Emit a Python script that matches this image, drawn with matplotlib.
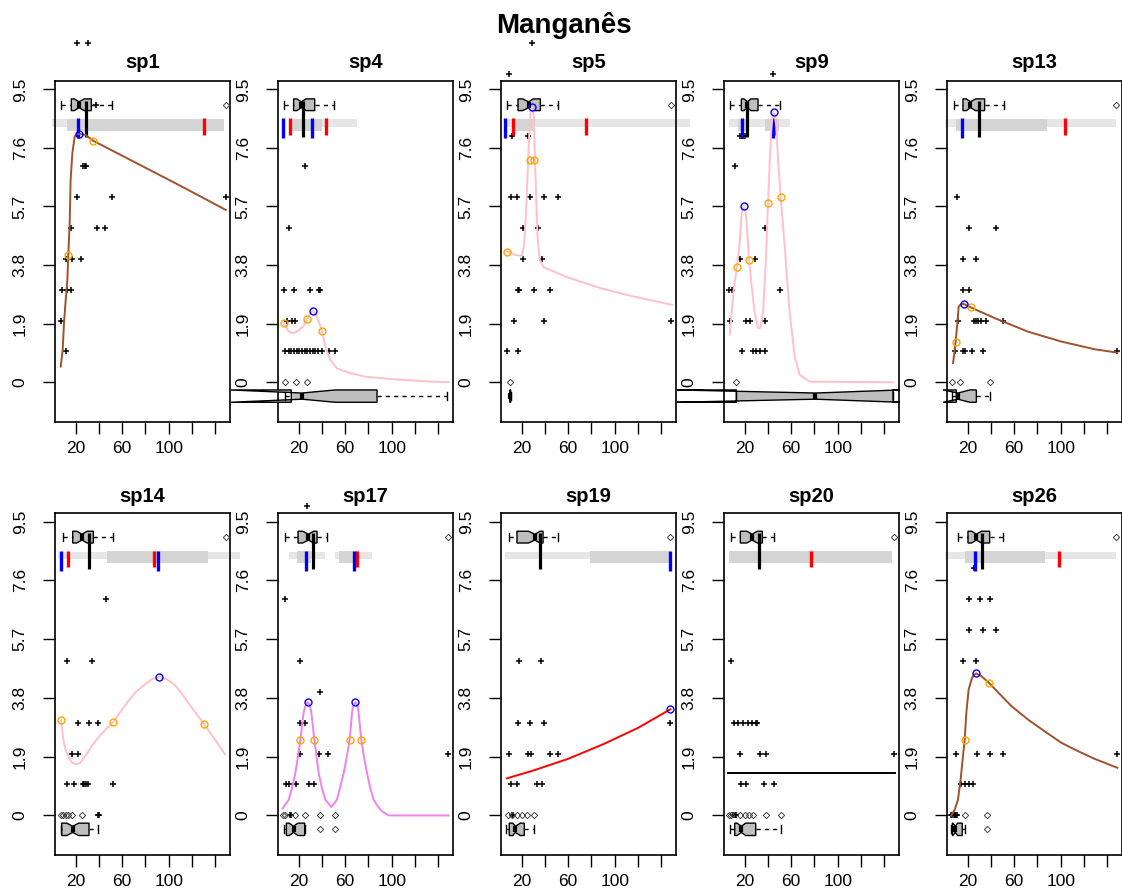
import matplotlib
matplotlib.use("Agg")
import matplotlib.pyplot as plt
from matplotlib.patches import Polygon, Rectangle

plt.rcParams["font.family"] = ["Liberation Sans", "DejaVu Sans"]

species = ["sp1", "sp4", "sp5", "sp9", "sp13",
           "sp14", "sp17", "sp19", "sp20", "sp26"]

y_ticks = [0, 1.9, 3.8, 5.7, 7.6, 9.5]
y_tick_labels = ["0", "1.9", "3.8", "5.7", "7.6", "9.5"]
x_ticks = [20, 40, 60, 80, 100, 120, 140]
x_tick_labels = ["20", "", "60", "", "100", "", ""]

# fitted response curves
curve_color = {
    "sp1": "#A0522D", "sp4": "pink", "sp5": "pink", "sp9": "pink",
    "sp13": "#A0522D", "sp14": "pink", "sp17": "violet", "sp19": "red",
    "sp20": "black", "sp26": "#A0522D",
}
curve_x = {
    "sp1": [7.3, 9.0, 10.1, 11.8, 13.0, 13.8, 15.0, 15.8, 17.3, 19.3, 21.0,
            23.0, 26.0, 28.7, 35.3, 70.2, 113.1, 148.9],
    "sp4": [7.3, 11.6, 15.8, 20.1, 24.4, 27.3, 30.2, 32.2, 34.4, 37.3, 40.2,
            43.0, 47.3, 53.0, 63.1, 77.4, 100.2, 128.9, 148.9],
    "sp5": [7.5, 14.7, 20.4, 22.4, 24.2, 25.6, 26.8, 28.0, 29.3, 30.6, 31.5,
            32.6, 33.8, 35.6, 39.0, 59.0, 87.7, 116.3, 149.2],
    "sp9": [7.3, 8.7, 11.0, 13.6, 15.8, 17.3, 18.3, 19.3, 20.4, 21.6, 23.9,
            25.9, 28.7, 31.6, 33.6, 35.9, 38.2, 40.2, 41.6, 43.0, 44.0, 45.0,
            46.0, 47.3, 49.0, 51.0, 54.5, 58.8, 63.1, 67.3, 75.9, 147.5],
    "sp13": [7.6, 9.0, 9.8, 11.3, 12.4, 14.7, 16.7, 22.7, 43.3, 71.9, 100.5,
             129.1, 148.6],
    "sp14": [7.5, 9.6, 11.5, 13.8, 16.0, 18.1, 21.0, 23.9, 28.5, 33.9, 38.0,
             42.5, 47.5, 52.5, 58.5, 65.3, 72.0, 79.6, 85.5, 91.7, 98.5,
             105.4, 111.0, 116.8, 123.5, 130.3, 135.0, 139.7, 144.0, 148.5],
    "sp17": [6.4, 11.6, 14.5, 17.3, 19.5, 21.6, 23.0, 24.4, 26.0, 27.9, 29.8,
             31.0, 32.3, 33.6, 35.5, 37.3, 40.0, 43.0, 48.2, 53.0, 58.8, 61.5,
             63.9, 65.0, 65.9, 66.9, 68.8, 70.7, 71.6, 72.7, 73.9, 76.2, 78.8,
             81.5, 84.5, 88.0, 91.7, 97.4, 148.9],
    "sp19": [7.5, 30.0, 60.0, 90.0, 120.0, 147.7],
    "sp20": [5.8, 148.9],
    "sp26": [6.1, 9.0, 11.8, 14.1, 16.1, 17.6, 19.0, 21.0, 23.9, 25.5, 27.6,
             32.0, 38.4, 47.0, 57.6, 71.9, 86.2, 100.5, 114.8, 129.1, 148.6],
}
curve_y = {
    "sp1": [0.51, 1.05, 1.91, 2.78, 3.32, 4.13, 5.16, 6.56, 7.43, 7.97, 8.04,
            8.05, 8.04, 8.02, 7.83, 7.15, 6.31, 5.59],
    "sp4": [1.91, 1.64, 1.59, 1.68, 1.83, 2.04, 2.24, 2.31, 2.24, 1.97, 1.66,
            1.16, 0.72, 0.45, 0.31, 0.18, 0.10, 0.03, 0.0],
    "sp5": [4.24, 4.13, 4.10, 4.51, 5.8, 7.1, 8.2, 8.85, 8.92, 8.6, 7.3, 6.0,
            4.72, 3.97, 3.73, 3.41, 3.05, 2.78, 2.51],
    "sp9": [1.54, 2.13, 3.10, 3.75, 4.51, 5.37, 5.62, 5.70, 5.60, 5.30, 3.95,
            3.21, 2.24, 1.75, 1.77, 2.24, 3.86, 5.81, 7.10, 8.18, 8.62, 8.78,
            8.65, 8.29, 7.10, 6.02, 4.40, 2.24, 0.83, 0.24, 0.02, 0.0],
    "sp13": [0.62, 1.05, 1.32, 1.91, 2.45, 2.54, 2.54, 2.43, 2.08, 1.64, 1.32,
             1.07, 0.96],
    "sp14": [3.08, 2.45, 2.12, 1.91, 1.75, 1.68, 1.65, 1.70, 1.92, 2.24, 2.45,
             2.65, 2.84, 3.02, 3.35, 3.70, 4.00, 4.24, 4.40, 4.48, 4.40, 4.21,
             3.95, 3.64, 3.30, 2.96, 2.70, 2.45, 2.22, 1.97],
    "sp17": [0.22, 0.51, 0.90, 1.37, 1.90, 2.45, 2.90, 3.32, 3.55, 3.66, 3.55,
             3.32, 2.90, 2.45, 1.90, 1.37, 0.90, 0.51, 0.27, 0.51, 1.37, 1.90,
             2.45, 2.90, 3.32, 3.55, 3.66, 3.55, 3.32, 2.90, 2.45, 1.90, 1.37,
             0.90, 0.51, 0.30, 0.13, 0.0, 0.0],
    "sp19": [1.20, 1.45, 1.83, 2.30, 2.83, 3.43],
    "sp20": [1.37, 1.37],
    "sp26": [0.0, 0.18, 0.51, 1.16, 1.91, 2.45, 3.32, 4.08, 4.45, 4.55, 4.59,
             4.50, 4.29, 3.95, 3.54, 3.10, 2.72, 2.35, 2.08, 1.83, 1.54],
}

# optimum (blue) and border (orange) points on the curves
optima = {
    "sp1": [(23.0, 8.05)], "sp4": [(32.2, 2.31)], "sp5": [(29.3, 8.94)],
    "sp9": [(19.3, 5.70), (45.0, 8.78)], "sp13": [(16.7, 2.54)],
    "sp14": [(91.7, 4.48)], "sp17": [(27.9, 3.66), (68.8, 3.66)],
    "sp19": [(147.7, 3.43)], "sp20": [], "sp26": [(27.6, 4.59)],
}
borders = {
    "sp1": [(13.8, 4.13), (35.3, 7.83)],
    "sp4": [(7.3, 1.91), (27.3, 2.04), (40.2, 1.66)],
    "sp5": [(7.5, 4.24), (27.2, 7.2), (31.0, 7.2)],
    "sp9": [(13.6, 3.75), (23.9, 3.95), (40.2, 5.81), (51.0, 6.02)],
    "sp13": [(9.8, 1.32), (22.7, 2.43)],
    "sp14": [(7.5, 3.08), (52.5, 3.02), (130.3, 2.96)],
    "sp17": [(21.6, 2.45), (33.6, 2.45), (63.9, 2.45), (73.9, 2.45)],
    "sp19": [], "sp20": [],
    "sp26": [(17.6, 2.45), (38.4, 4.29)],
}

# observed abundances: level -> gradient positions
obs = {
    "sp1": {11: [21.6, 30.7], 9: [37.9], 7: [26.7, 27.8, 29.0],
            6: [21.6, 51.0, 148.9], 5: [16.4, 38.2, 45.0],
            4: [11.6, 17.3, 24.4], 3: [8.7, 13.0, 16.4], 2: [7.3], 1: [12.1]},
    "sp4": {7: [25.9], 5: [11.6], 3: [7.3, 16.4, 30.2, 37.3, 38.7],
            2: [10.1, 14.4, 17.3],
            1: [8.7, 11.6, 13.8, 16.1, 18.4, 20.7, 23.0, 25.3, 27.6, 29.8,
                32.2, 34.4, 36.7, 40.2, 45.9, 51.6]},
    "sp5": {11: [29.0], 10: [9.0], 8: [11.8, 25.3],
            6: [11.3, 16.1, 27.6, 39.0, 51.0], 5: [21.3, 33.9],
            4: [21.0, 37.6], 3: [17.0, 18.2, 30.4, 44.2],
            2: [13.3, 39.0, 148.3], 1: [7.5, 17.0]},
    "sp9": {10: [44.5], 8: [16.4, 17.6, 19.0, 20.4], 7: [11.6], 5: [37.9],
            4: [16.4, 28.7], 3: [6.7, 9.6, 50.8], 2: [7.3, 21.0, 24.4, 37.3],
            1: [17.9, 27.3, 30.2, 33.0, 37.3]},
    "sp13": {6: [11.3], 5: [21.0, 44.7], 4: [16.1, 27.0], 3: [16.1, 21.0],
             2: [11.8, 25.6, 27.5, 29.0, 31.3, 36.2, 50.5],
             1: [9.0, 16.1, 17.6, 24.1, 33.3, 148.6]},
    "sp14": {7: [45.9], 5: [13.0, 34.4], 3: [22.4, 31.6, 39.6],
             2: [16.7, 22.4], 1: [12.4, 19.0, 26.7, 27.7, 28.7, 30.4, 52.5],
             0: [39.6, 40.5]},
    "sp17": {10: [27.3], 7: [8.7], 5: [21.6], 4: [38.7], 3: [21.6, 25.9],
             2: [21.6, 37.9, 45.3, 148.3],
             1: [9.6, 11.6, 17.9, 29.3, 33.0], 0: [12.5, 13.5]},
    "sp19": {5: [18.1, 36.7], 3: [16.7, 27.6, 39.0, 147.7],
             2: [9.0, 25.6, 28.4, 44.7, 51.0], 1: [11.3, 16.1, 33.3, 37.6],
             0: [11.8, 12.5]},
    "sp20": {5: [8.7], 3: [10.7, 14.4, 18.7, 23.0, 26.7, 29.6, 30.7],
             2: [16.4, 33.0, 38.7, 148.3], 1: [17.3, 21.0, 36.7, 45.0],
             0: [10.5, 11.6, 12.5]},
    "sp26": {8: [25.6], 7: [21.0, 30.4, 39.0], 6: [21.0, 33.3, 44.7],
             5: [16.1, 27.0], 2: [10.4, 28.4, 39.0, 50.5, 148.6],
             1: [14.7, 18.1, 21.0, 24.7], 0: [6.1, 7.0, 8.0, 9.0, 10.0, 11.0]},
}
zeros = {
    "sp1": [], "sp4": [8.7, 17.9, 27.3], "sp5": [10.4], "sp9": [13.0],
    "sp13": [6.7, 13.3, 39.0],
    "sp14": [7.5, 9.6, 11.6, 13.8, 16.7, 25.3],
    "sp17": [6.4, 8.7, 16.7, 25.3, 38.7, 51.0],
    "sp19": [8.1, 11.8, 16.1, 20.4, 24.7, 31.0],
    "sp20": [6.7, 8.7, 15.8, 20.1, 23.9, 27.6, 38.7, 51.0],
    "sp26": [17.6, 37.0],
}

# boxplots: (min, q1, median, q3, max, notch low, notch high)
top_box = {
    "sp1": (7.3, 16.4, 23.0, 33.6, 51.0, 19.0, 27.5),
    "sp4": (7.3, 15.8, 22.4, 33.9, 50.2, 18.5, 26.5),
    "sp5": (7.5, 17.0, 26.1, 36.2, 51.3, 21.0, 30.0),
    "sp9": (7.3, 17.3, 22.5, 31.6, 50.2, 19.5, 25.5),
    "sp13": (8.4, 16.1, 22.5, 34.7, 51.3, 19.0, 27.0),
    "sp14": (9.6, 17.6, 25.5, 35.3, 51.9, 21.0, 30.0),
    "sp17": (8.7, 19.6, 28.5, 35.9, 44.5, 23.5, 33.0),
    "sp19": (9.0, 16.1, 31.5, 38.5, 51.3, 26.0, 36.0),
    "sp20": (8.7, 16.4, 26.5, 35.3, 45.0, 22.0, 31.0),
    "sp26": (11.8, 20.4, 27.5, 39.0, 50.5, 23.5, 32.0),
}
top_out = {
    "sp1": [148.9], "sp4": [], "sp5": [148.3], "sp9": [], "sp13": [147.7],
    "sp14": [149.2], "sp17": [148.3], "sp19": [147.7], "sp20": [148.3],
    "sp26": [147.7],
}
bottom_box = {
    "sp4": (8.7, 13.8, 23.0, 87.4, 147.5, -38.5, 51.6),
    "sp5": (10.0, 10.2, 10.4, 10.6, 10.8, 10.3, 10.5),
    "sp9": (13.0, 13.0, 80.8, 147.5, 147.5, -38.0, 153.5),
    "sp13": (6.7, 10.4, 11.8, 27.6, 39.0, -1.0, 22.0),
    "sp14": (7.5, 8.1, 17.6, 31.6, 39.6, 12.5, 22.7),
    "sp17": (7.3, 9.6, 15.8, 25.3, 25.3, 12.0, 19.5),
    "sp19": (7.0, 9.5, 14.7, 22.4, 31.0, 12.5, 19.0),
    "sp20": (7.3, 11.6, 17.3, 29.6, 51.0, 13.5, 21.0),
    "sp26": (6.1, 7.0, 9.5, 15.5, 17.6, 7.5, 11.5),
}
bottom_out = {"sp17": [38.7, 51.0], "sp26": [37.0]}

# ranges drawn as grey bands, and marks above the curve
light_band = {
    "sp1": [(0.1, 147.4)], "sp4": [(13.0, 70.2)], "sp5": [(6.1, 165.0)],
    "sp9": [(6.7, 58.8)], "sp13": [(0.4, 147.7)], "sp14": [(5.3, 161.0)],
    "sp17": [(11.6, 42.5), (51.6, 83.1)], "sp19": [(6.1, 147.7)],
    "sp20": [], "sp26": [(0.4, 147.7)],
}
dark_band = {
    "sp1": [(13.0, 147.4)], "sp4": [(13.0, 40.2)], "sp5": [(14.7, 31.9)],
    "sp9": [(14.0, 23.0), (38.0, 50.0)], "sp13": [(9.8, 88.2)],
    "sp14": [(46.7, 134.0)], "sp17": [(18.5, 30.5), (55.0, 72.0)],
    "sp19": [(78.5, 147.7)], "sp20": [(6.7, 146.9)], "sp26": [(17.6, 86.2)],
}
blue_marks = {
    "sp1": [22.1], "sp4": [6.4, 31.6], "sp5": [6.1], "sp9": [18.1, 44.4],
    "sp13": [15.6], "sp14": [7.5, 90.5], "sp17": [26.7, 67.3],
    "sp19": [147.7], "sp20": [], "sp26": [26.1],
}
red_marks = {
    "sp1": [130.3], "sp4": [12.4, 43.9], "sp5": [12.7, 75.6], "sp9": [45.3],
    "sp13": [103.7], "sp14": [13.8, 87.7], "sp17": [69.9], "sp19": [],
    "sp20": [77.4], "sp26": [98.5],
}
centre_mark = {
    "sp1": 28.7, "sp4": 23.6, "sp5": None, "sp9": 22.4, "sp13": 29.9,
    "sp14": 31.9, "sp17": 32.4, "sp19": 36.2, "sp20": 32.4, "sp26": 32.4,
}


def notched_box(ax, y, stats, half, outliers):
    lo, q1, med, q3, hi, c1, c2 = stats
    nf = 0.5
    xs = [q1, q1, c1, med, c2, q3, q3, c2, med, c1]
    ys = [y - half, y + half, y + half, y + nf * half, y + half, y + half,
          y - half, y - half, y - nf * half, y - half]
    ax.add_patch(Polygon(list(zip(xs, ys)), closed=True, facecolor="#BEBEBE",
                         edgecolor="black", linewidth=1, clip_on=False,
                         zorder=5))
    ax.plot([med, med], [y - nf * half, y + nf * half], color="black", lw=3,
            solid_capstyle="butt", clip_on=False, zorder=6)
    for a, b in [(lo, q1), (q3, hi)]:
        ax.plot([a, b], [y, y], color="black", lw=1, dashes=(3, 3),
                clip_on=False, zorder=5)
    for v in [lo, hi]:
        ax.plot([v, v], [y - 0.13, y + 0.13], color="black", lw=1,
                clip_on=False, zorder=5)
    if outliers:
        ax.plot(outliers, [y] * len(outliers), "D", ms=3.2, mfc="none",
                mec="#444444", mew=0.7, clip_on=False, zorder=5)


fig = plt.figure(figsize=(11.22, 8.91), dpi=100)
W, H = 1122, 891
col_left = [55, 278, 501, 724, 947]
rows = [(80.7, 421.7), (513, 855)]

for i, sp in enumerate(species):
    r, c = divmod(i, 5)
    top, bot = rows[r]
    ax = fig.add_axes([col_left[c] / W, (H - bot) / H, 175 / W, (bot - top) / H])
    ax.set_facecolor("none")
    ax.set_xlim(2.4, 152.6)
    ax.set_ylim(-1.28, 9.78)

    # grey bands and marks
    for x0, x1 in light_band[sp]:
        ax.add_patch(Rectangle((x0, 8.29), x1 - x0, 0.24, facecolor="#E6E6E6",
                               edgecolor="none", clip_on=False, zorder=2))
    for x0, x1 in dark_band[sp]:
        ax.add_patch(Rectangle((x0, 8.15), x1 - x0, 0.40, facecolor="#D4D4D4",
                               edgecolor="none", clip_on=False, zorder=2))
    for xv in red_marks[sp]:
        ax.plot([xv, xv], [8.02, 8.56], color="red", lw=2.4,
                solid_capstyle="butt", clip_on=False, zorder=4)
    for xv in blue_marks[sp]:
        ax.plot([xv, xv], [7.92, 8.56], color="blue", lw=2.4,
                solid_capstyle="butt", clip_on=False, zorder=4)
    if centre_mark[sp] is not None:
        ax.plot([centre_mark[sp]] * 2, [7.96, 9.12], color="black", lw=2.3,
                solid_capstyle="butt", clip_on=False, zorder=6)

    # observations
    px, py = [], []
    for level, xs in obs[sp].items():
        px += xs
        py += [level] * len(xs)
    ax.plot(px, py, "+", color="black", ms=5, mew=1.1, clip_on=False, zorder=3)
    if zeros[sp]:
        ax.plot(zeros[sp], [0] * len(zeros[sp]), "D", ms=3.2, mfc="none",
                mec="#444444", mew=0.7, clip_on=False, zorder=3)

    # boxplots
    notched_box(ax, 9.0, top_box[sp], 0.19, top_out[sp])
    if sp in bottom_box:
        notched_box(ax, -0.45, bottom_box[sp], 0.2, bottom_out.get(sp, []))

    # response curve
    ax.plot(curve_x[sp], curve_y[sp], color=curve_color[sp], lw=1.4,
            clip_on=False, zorder=7)
    if borders[sp]:
        bx, by = zip(*borders[sp])
        ax.plot(bx, by, "o", ms=5, mfc="none", mec="orange", mew=1,
                clip_on=False, zorder=8)
    if optima[sp]:
        ox, oy = zip(*optima[sp])
        ax.plot(ox, oy, "o", ms=5, mfc="none", mec="blue", mew=1,
                clip_on=False, zorder=8)

    ax.set_xticks(x_ticks)
    ax.set_xticklabels(x_tick_labels)
    ax.set_yticks(y_ticks)
    ax.set_yticklabels(y_tick_labels, rotation=90, va="center")
    ax.tick_params(axis="both", length=8.6, width=1, labelsize=12.5,
                   direction="out")
    ax.tick_params(axis="x", pad=5)
    ax.tick_params(axis="y", pad=11)
    for s in ax.spines.values():
        s.set_linewidth(1.2)
    ax.set_title(sp, fontsize=14.5, fontweight="bold", pad=9 if r == 0 else 8)

fig.text(564 / W, 1 - 33 / H, "Manganês", ha="center", va="baseline",
         fontsize=20, fontweight="bold")

fig.savefig("out.png", dpi=100)
